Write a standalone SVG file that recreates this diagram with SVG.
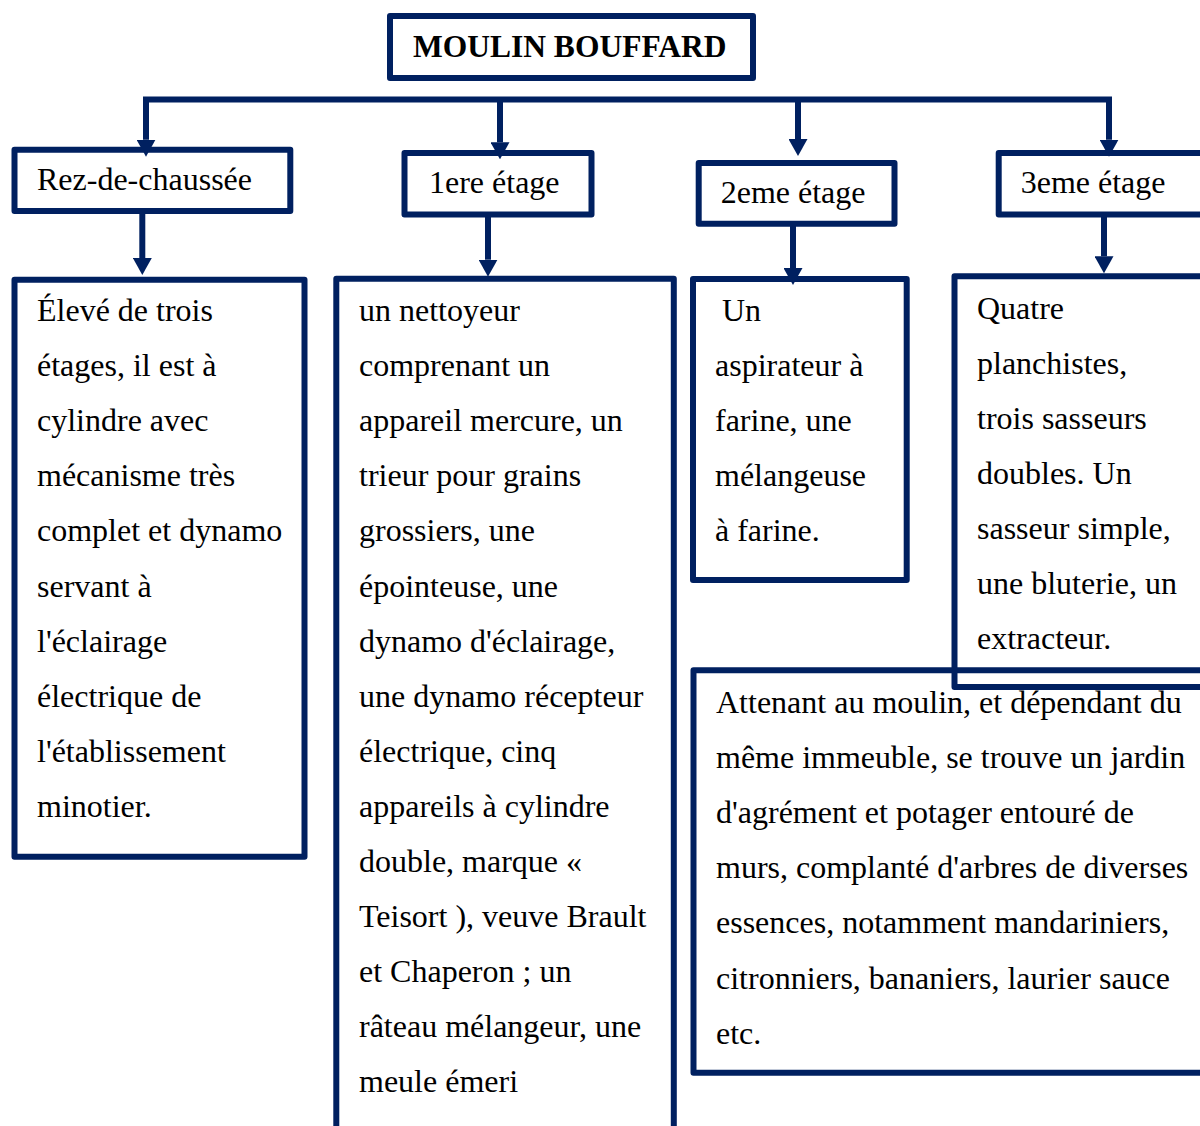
<svg xmlns="http://www.w3.org/2000/svg" width="1200" height="1126" viewBox="0 0 1200 1126">
  <style>
    .box { fill: none; stroke: #002060; stroke-width: 6; stroke-linejoin: round; }
    .wire { fill: none; stroke: #002060; stroke-width: 6; stroke-linejoin: miter; }
    .t { font-family: "Liberation Serif", "Times New Roman", serif; font-size: 32px; fill: #000; }
    .title { font-family: "Liberation Serif", "Times New Roman", serif; font-size: 31.5px; font-weight: bold; fill: #000; }
  </style>
  <defs>
    <marker id="head" markerUnits="userSpaceOnUse" viewBox="0 0 17 19" refX="0" refY="9.5" markerWidth="17" markerHeight="19" orient="auto-start-reverse">
      <path d="M0,0 L17,9.5 L0,19 Z" fill="#002060"/>
    </marker>
  </defs>
  <rect width="1200" height="1126" fill="#fff"/>

  <!-- connectors -->
  <g id="connectors">
    <path class="wire" d="M146,139.7 V99.5 H1109 V139.7" marker-start="url(#head)" marker-end="url(#head)"/>
    <path class="wire" d="M500,99.5 V142.3" marker-end="url(#head)"/>
    <path class="wire" d="M798,99.5 V139" marker-end="url(#head)"/>
    <path class="wire" d="M142.3,214 V258" marker-end="url(#head)"/>
    <path class="wire" d="M488,217 V259.7" marker-end="url(#head)"/>
    <path class="wire" d="M793,224 V268" marker-end="url(#head)"/>
    <path class="wire" d="M1104,217 V256.3" marker-end="url(#head)"/>
  </g>

  <!-- title -->
  <g id="root">
    <rect class="box" x="390" y="16" width="363" height="62"/>
    <text class="title" x="413" y="57">MOULIN BOUFFARD</text>
  </g>

  <!-- floor headers -->
  <g id="rdc">
    <rect class="box" x="14.5" y="149.7" width="275.8" height="61.3"/>
    <text class="t" x="37" y="190">Rez-de-chaussée</text>
  </g>
  <g id="etage1">
    <rect class="box" x="404.5" y="153" width="187" height="61.5"/>
    <text class="t" x="429" y="193.3">1ere étage</text>
  </g>
  <g id="etage2">
    <rect class="box" x="698.7" y="163" width="195.8" height="60.8"/>
    <text class="t" x="720.7" y="203.3">2eme étage</text>
  </g>
  <g id="etage3">
    <rect class="box" x="998.7" y="153" width="220" height="61.5"/>
    <text class="t" x="1020.7" y="193.3">3eme étage</text>
  </g>

  <!-- floor contents -->
  <g id="rdc-detail">
    <rect class="box" x="14.5" y="279.7" width="290" height="577"/>
    <text class="t" y="321">
      <tspan x="37">Élevé de trois</tspan>
      <tspan x="37" dy="55.1">étages, il est à</tspan>
      <tspan x="37" dy="55.1">cylindre avec</tspan>
      <tspan x="37" dy="55.1">mécanisme très</tspan>
      <tspan x="37" dy="55.1">complet et dynamo</tspan>
      <tspan x="37" dy="55.1">servant à</tspan>
      <tspan x="37" dy="55.1">l'éclairage</tspan>
      <tspan x="37" dy="55.1">électrique de</tspan>
      <tspan x="37" dy="55.1">l'établissement</tspan>
      <tspan x="37" dy="55.1">minotier.</tspan>
    </text>
  </g>

  <g id="etage1-detail">
    <rect class="box" x="336.3" y="278.7" width="337.5" height="900"/>
    <text class="t" y="321">
      <tspan x="359">un nettoyeur</tspan>
      <tspan x="359" dy="55.1">comprenant un</tspan>
      <tspan x="359" dy="55.1">appareil mercure, un</tspan>
      <tspan x="359" dy="55.1">trieur pour grains</tspan>
      <tspan x="359" dy="55.1">grossiers, une</tspan>
      <tspan x="359" dy="55.1">épointeuse, une</tspan>
      <tspan x="359" dy="55.1">dynamo d'éclairage,</tspan>
      <tspan x="359" dy="55.1">une dynamo récepteur</tspan>
      <tspan x="359" dy="55.1">électrique, cinq</tspan>
      <tspan x="359" dy="55.1">appareils à cylindre</tspan>
      <tspan x="359" dy="55.1">double, marque «</tspan>
      <tspan x="359" dy="55.1">Teisort ), veuve Brault</tspan>
      <tspan x="359" dy="55.1">et Chaperon ; un</tspan>
      <tspan x="359" dy="55.1">râteau mélangeur, une</tspan>
      <tspan x="359" dy="55.1">meule émeri</tspan>
    </text>
  </g>

  <g id="etage2-detail">
    <rect class="box" x="693" y="279" width="213.7" height="301"/>
    <text class="t" y="321">
      <tspan x="722">Un</tspan>
      <tspan x="715" dy="55.1">aspirateur à</tspan>
      <tspan x="715" dy="55.1">farine, une</tspan>
      <tspan x="715" dy="55.1">mélangeuse</tspan>
      <tspan x="715" dy="55.1">à farine.</tspan>
    </text>
  </g>

  <g id="etage3-detail">
    <rect class="box" x="954.5" y="276.3" width="260" height="410.7"/>
    <text class="t" y="318.5">
      <tspan x="977">Quatre</tspan>
      <tspan x="977" dy="55.1">planchistes,</tspan>
      <tspan x="977" dy="55.1">trois sasseurs</tspan>
      <tspan x="977" dy="55.1">doubles. Un</tspan>
      <tspan x="977" dy="55.1">sasseur simple,</tspan>
      <tspan x="977" dy="55.1">une bluterie, un</tspan>
      <tspan x="977" dy="55.1">extracteur.</tspan>
    </text>
  </g>

  <g id="jardin">
    <rect class="box" x="693.5" y="670.3" width="520" height="402.5"/>
    <text class="t" y="713">
      <tspan x="716">Attenant au moulin, et dépendant du</tspan>
      <tspan x="716" dy="55.1">même immeuble, se trouve un jardin</tspan>
      <tspan x="716" dy="55.1">d'agrément et potager entouré de</tspan>
      <tspan x="716" dy="55.1">murs, complanté d'arbres de diverses</tspan>
      <tspan x="716" dy="55.1">essences, notamment mandariniers,</tspan>
      <tspan x="716" dy="55.1">citronniers, bananiers, laurier sauce</tspan>
      <tspan x="716" dy="55.1">etc.</tspan>
    </text>
  </g>
</svg>
